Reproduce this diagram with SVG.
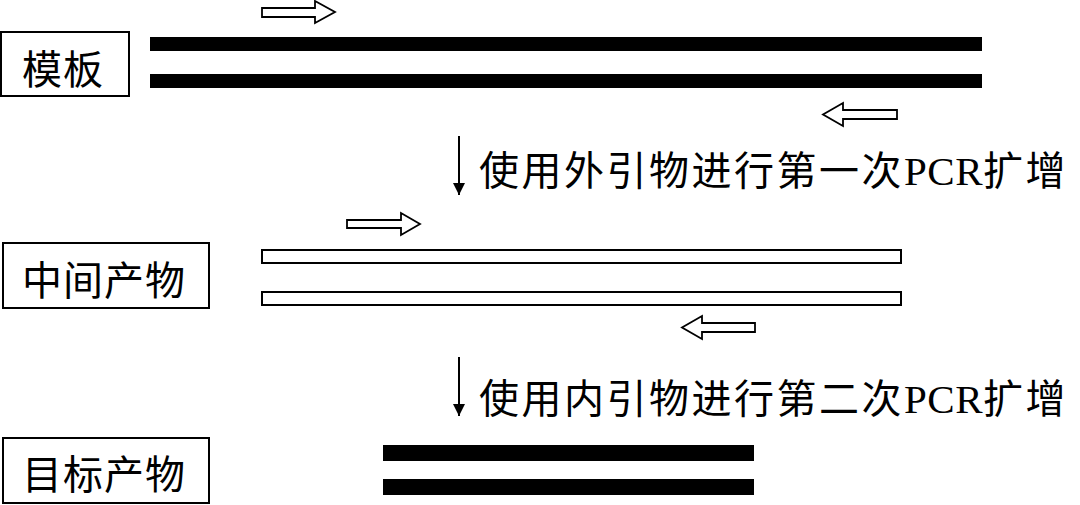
<svg xmlns="http://www.w3.org/2000/svg" width="1080" height="505" viewBox="0 0 1080 505">
<style>
.box{fill:#fff;stroke:#000;stroke-width:2}
.lbl{font-family:"Noto Sans CJK SC","Noto Sans CJK JP",sans-serif;font-size:40px;fill:#000;letter-spacing:1px}
.step{font-family:"Noto Sans CJK SC","Noto Sans CJK JP",sans-serif;font-size:40px;fill:#000;letter-spacing:2.5px}
.lat{font-family:"Liberation Serif",serif;font-size:41px;letter-spacing:0.5px}
.solid{fill:#000}
.hollow{fill:#fff;stroke:#000;stroke-width:2}
.primer{fill:#fff;stroke:#000;stroke-width:1.8;stroke-linejoin:miter}
.conn{stroke:#000;stroke-width:2;fill:none}
</style>
<defs>
<marker id="ah" viewBox="0 0 12 12" refX="12" refY="6" markerWidth="12" markerHeight="12" markerUnits="userSpaceOnUse" orient="auto">
<path d="M0,0 L12,6 L0,12 Z" fill="#000"/>
</marker>
</defs>
<rect width="1080" height="505" fill="#fff"/>

<g id="template">
<rect class="box" x="1" y="32" width="128" height="64"/>
<text class="lbl" x="22" y="84">模板</text>
</g>
<g id="template-strands">
<rect class="solid" x="150" y="37" width="832" height="14"/>
<rect class="solid" x="150" y="74" width="832" height="14"/>
</g>
<g id="outer-primer-f">
<path class="primer" d="M262,8 H315 V1 L335,12 L315,23 V17 H262 Z"/>
</g>
<g id="outer-primer-r">
<path class="primer" d="M897,110 H843 V103 L823,114.5 L843,126 V119 H897 Z"/>
</g>

<g id="intermediate">
<rect class="box" x="3" y="243" width="206" height="65"/>
<text class="lbl" x="22" y="295">中间产物</text>
</g>
<g id="intermediate-strands">
<rect class="hollow" x="262" y="250" width="639" height="13"/>
<rect class="hollow" x="262" y="292" width="639" height="13"/>
</g>
<g id="inner-primer-f">
<path class="primer" d="M347,220 H401 V213 L420,224 L401,235 V228 H347 Z"/>
</g>
<g id="inner-primer-r">
<path class="primer" d="M755,323 H702 V316 L682,327.5 L702,339 V332 H755 Z"/>
</g>

<g id="target">
<rect class="box" x="3" y="438" width="206" height="65"/>
<text class="lbl" x="22" y="489">目标产物</text>
</g>
<g id="target-strands">
<rect class="solid" x="383" y="445" width="371" height="16"/>
<rect class="solid" x="383" y="479" width="371" height="16"/>
</g>

<g id="connectors">
<line class="conn" x1="459" y1="136" x2="459" y2="195" marker-end="url(#ah)"/>
<line class="conn" x1="459" y1="357" x2="459" y2="416" marker-end="url(#ah)"/>
</g>
<g id="step-labels">
<text class="step" x="479" y="185">使用外引物进行第一次<tspan class="lat">PCR</tspan>扩增</text>
<text class="step" x="479" y="413">使用内引物进行第二次<tspan class="lat">PCR</tspan>扩增</text>
</g>
</svg>
